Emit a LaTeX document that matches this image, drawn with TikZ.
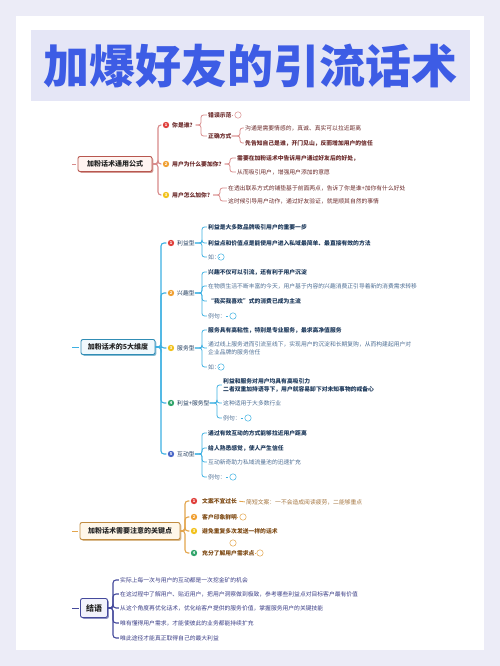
\documentclass[tikz,border=0pt]{standalone}
\usepackage{fontspec}
\setmainfont{Noto Sans CJK SC}
\usetikzlibrary{shadows}
\definecolor{pagebg}{HTML}{ECECF7}
\definecolor{bandbg}{HTML}{E5E6F6}
\definecolor{titleblue}{HTML}{3D5CE5}
\definecolor{redline}{HTML}{D88A8A}
\definecolor{redtext}{HTML}{6B2A2A}
\definecolor{redbox}{HTML}{B8574F}
\definecolor{redfill}{HTML}{FFF4F1}
\definecolor{blueline}{HTML}{3DB0E2}
\definecolor{bluetext}{HTML}{1E3A5C}
\definecolor{bluesoft}{HTML}{4D6E94}
\definecolor{bluefill}{HTML}{F1F9FD}
\definecolor{orline}{HTML}{E3A54C}
\definecolor{ortext}{HTML}{7E4A14}
\definecolor{orsoft}{HTML}{A4753F}
\definecolor{orfill}{HTML}{FFF7E9}
\definecolor{navline}{HTML}{454A9C}
\definecolor{navtext}{HTML}{3B3E86}
\definecolor{navfill}{HTML}{F2F2FB}
\definecolor{mkred}{HTML}{E0403C}
\definecolor{mkorange}{HTML}{F0A033}
\definecolor{mkyellow}{HTML}{F2C21C}
\definecolor{mkgreen}{HTML}{2FA46A}
\definecolor{mkblue}{HTML}{4A68C8}
\tikzset{
 txt/.style={anchor=west, inner sep=0pt, font=\fontsize{5.8}{8}\selectfont, align=left},
 txtb/.style={txt, font=\fontsize{5.8}{8}\selectfont\bfseries},
 mk/.style={circle, fill=#1, inner sep=0pt, minimum size=6.4pt, text=white, font=\fontsize{4}{4}\selectfont\bfseries},
 ico/.style={circle, draw=#1, line width=0.5pt, inner sep=0pt, minimum size=6.4pt},
 rootbox/.style={draw=#1, line width=0.9pt, rounded corners=2pt, inner sep=0pt, font=\fontsize{7}{8}\selectfont\bfseries, text=black!85, drop shadow={shadow xshift=1.3pt, shadow yshift=-1.3pt, fill=#1, opacity=0.6}},
 br/.style={draw=#1, line width=0.8pt, rounded corners=2.5pt, shorten >=1.2pt},
 mainbr/.style={draw=#1, line width=1.1pt, rounded corners=3pt, shorten >=1.2pt},
}
\begin{document}
\begin{tikzpicture}[x=1pt,y=-1pt]
\useasboundingbox (0,0) rectangle (500,666);
\fill[pagebg] (0,0) rectangle (500,666);
\fill[white] (16,16) rectangle (484,650);
\fill[bandbg] (31,30) rectangle (470,101);
\node[text=titleblue, font=\fontsize{46}{46}\selectfont\bfseries, inner sep=0pt] (title) at (250,66) {加爆好友的引流话术};

% ---------------- Section 1 ----------------
\coordinate (s1) at (72,164);
\node[rootbox=redbox, fill=redfill, minimum width=74pt, minimum height=15pt] (r1) at (115,164) {加粉话术通用公式};
\draw[br=redline] (s1) -- (r1.west);
\coordinate (k1) at (158,164);
\node[mk=mkred] (m11) at (166,125) {1};
\node[mk=mkorange] (m12) at (166,164) {2};
\node[mk=mkyellow] (m13) at (166,195) {3};
\node[txtb, text=redtext] (a11) at (172,125) {你是谁？};
\node[txtb, text=redtext] (a12) at (172,164) {用户为什么要加你？};
\node[txtb, text=redtext] (a13) at (172,195) {用户怎么加你？};
\foreach \m in {m11,m12,m13} \draw[mainbr=redline] (r1.east) -- (k1) |- (\m.west);

\coordinate (k11) at (201,125);
\node[txtb, text=redtext] (b11) at (208,115) {错误示范};
\node[ico=redline] (i11) at (238,115) {};
\node[txtb, text=redtext] (b12) at (208,136) {正确方式};
\draw[br=redline] (b11.east) -- (i11.west);
\foreach \c in {b11,b12} \draw[br=redline] (a11.east) -- (k11) |- (\c.west);

\coordinate (k12) at (240,136);
\node[txt, text=redtext] (c11) at (245,128) {沟通是需要情感的，真诚、真实可以拉近距离};
\node[txtb, text=redtext] (c12) at (245,143) {先告知自己是谁，开门见山，反而增加用户的信任};
\foreach \c in {c11,c12} \draw[br=redline] (b12.east) -- (k12) |- (\c.west);

\coordinate (k13) at (230,164);
\node[txtb, text=redtext] (c13) at (237,158) {需要在加粉话术中告诉用户通过好友后的好处，};
\node[txt, text=redtext] (c14) at (237,172) {从而吸引用户，增强用户添加的意愿};
\foreach \c in {c13,c14} \draw[br=redline] (a12.east) -- (k13) |- (\c.west);

\coordinate (k14) at (220,195);
\node[txt, text=redtext] (c15) at (228,188) {在透出联系方式的铺垫基于前面两点，告诉了你是谁+加你有什么好处};
\node[txt, text=redtext] (c16) at (228,201) {这时候引导用户动作，通过好友验证，就是顺其自然的事情};
\foreach \c in {c15,c16} \draw[br=redline] (a13.east) -- (k14) |- (\c.west);

% ---------------- Section 2 ----------------
\coordinate (s2) at (72,347);
\node[rootbox=blueline!80!black, fill=bluefill, minimum width=74pt, minimum height=15pt] (r2) at (118,347) {加粉话术的5大维度};
\draw[br=blueline] (s2) -- (r2.west);
\coordinate (k2) at (161,347);
\node[mk=mkred] (m21) at (171,243) {1};
\node[mk=mkorange] (m22) at (171,293) {2};
\node[mk=mkyellow] (m23) at (171,348) {3};
\node[mk=mkgreen] (m24) at (171,403) {4};
\node[mk=mkblue] (m25) at (171,454) {5};
\node[txt, text=bluetext] (a21) at (177,243) {利益型};
\node[txt, text=bluetext] (a22) at (177,293) {兴趣型};
\node[txt, text=bluetext] (a23) at (177,348) {服务型};
\node[txt, text=bluetext] (a24) at (177,403) {利益+服务型};
\node[txt, text=bluetext] (a25) at (177,454) {互动型};
\foreach \m in {m21,m22,m23,m24,m25} \draw[mainbr=blueline] (r2.east) -- (k2) |- (\m.west);

\coordinate (k21) at (202,243);
\node[txtb, text=bluetext] (d11) at (208,227) {利益是大多数品牌吸引用户的重要一步};
\node[txtb, text=bluetext] (d12) at (208,243) {利益点和价值点是能使用户进入私域最简单、最直接有效的方法};
\node[txt, text=bluesoft] (d13) at (208,257) {如：};
\node[ico=blueline] (j13) at (221,257) {};
\draw[br=blueline] (d13.east) -- (j13.west);
\foreach \c in {d11,d12,d13} \draw[br=blueline] (a21.east) -- (k21) |- (\c.west);

\coordinate (k22) at (202,293);
\node[txtb, text=bluetext] (d21) at (208,272) {兴趣不仅可以引流，还有利于用户沉淀};
\node[txt, text=bluesoft] (d22) at (208,286) {在物质生活不断丰富的今天，用户基于内容的兴趣消费正引导着新的消费需求转移};
\node[txtb, text=bluetext] (d23) at (208,301) {“我买我喜欢”式的消费已成为主流};
\node[txt, text=bluesoft] (d24) at (208,316) {例句：};
\node[ico=blueline] (j24) at (233,316) {};
\draw[br=blueline] (d24.east) -- (j24.west);
\foreach \c in {d21,d22,d23,d24} \draw[br=blueline] (a22.east) -- (k22) |- (\c.west);

\coordinate (k23) at (202,348);
\node[txtb, text=bluetext] (d31) at (208,330) {服务具有高粘性，特别是专业服务，最求高净值服务};
\node[txt, text=bluesoft] (d32) at (208,348) {通过线上服务进而引流至线下，实现用户的沉淀和长期复购，从而构建起用户对\\企业品牌的服务信任};
\node[txt, text=bluesoft] (d33) at (208,367) {如：};
\node[ico=blueline] (j33) at (221,367) {};
\draw[br=blueline] (d33.east) -- (j33.west);
\foreach \c in {d31,d32,d33} \draw[br=blueline] (a23.east) -- (k23) |- (\c.west);

\coordinate (k24) at (217,403);
\node[txtb, text=bluetext] (d41) at (223,385) {利益和服务对用户均具有高吸引力\\二者双重加持语导下，用户就容易卸下对未知事物的戒备心};
\node[txt, text=bluesoft] (d42) at (223,403) {这种适用于大多数行业};
\node[txt, text=bluesoft] (d43) at (223,418) {例句：};
\node[ico=blueline] (j43) at (248,418) {};
\draw[br=blueline] (d43.east) -- (j43.west);
\foreach \c in {d41,d42,d43} \draw[br=blueline] (a24.east) -- (k24) |- (\c.west);

\coordinate (k25) at (202,454);
\node[txtb, text=bluetext] (d51) at (208,433) {通过有效互动的方式能够拉近用户距离};
\node[txtb, text=bluetext] (d52) at (208,448) {给人熟悉感觉，使人产生信任};
\node[txt, text=bluesoft] (d53) at (208,462) {互动新奇助力私域流量池的迅速扩充};
\node[txt, text=bluesoft] (d54) at (208,477) {例句：};
\node[ico=blueline] (j54) at (233,477) {};
\draw[br=blueline] (d54.east) -- (j54.west);
\foreach \c in {d51,d52,d53,d54} \draw[br=blueline] (a25.east) -- (k25) |- (\c.west);

% ---------------- Section 3 ----------------
\coordinate (s3) at (72,531);
\node[rootbox=orline!85!black, fill=orfill, minimum width=100pt, minimum height=17pt] (r3) at (130,531) {加粉话术需要注意的关键点};
\draw[br=orline] (s3) -- (r3.west);
\coordinate (k3) at (185,531);
\node[mk=mkred] (m31) at (194,501) {1};
\node[mk=mkorange] (m32) at (194,517) {2};
\node[mk=mkyellow] (m33) at (194,531) {3};
\node[mk=mkgreen] (m34) at (194,553) {4};
\node[txtb, text=ortext] (a31) at (202,501) {文案不宜过长};
\node[txtb, text=ortext] (a32) at (202,517) {客户印象鲜明};
\node[txtb, text=ortext] (a33) at (202,531) {避免重复多次发送一样的话术};
\node[txtb, text=ortext] (a34) at (202,553) {充分了解用户需求点};
\foreach \m in {m31,m32,m33,m34} \draw[mainbr=orline] (r3.east) -- (k3) |- (\m.west);
\node[txt, text=orsoft] (e31) at (246,502) {简短文案：一不会造成阅读疲劳，二能够重点};
\draw[br=orline, shorten <=2pt] (a31.east) -- (e31.west);
\node[ico=orline] (j32) at (243,517) {};
\draw[br=orline] (a32.east) -- (j32.west);
\node[ico=orline] (j33b) at (233,543) {};
\node[ico=orline] (j34) at (260,553) {};
\draw[br=orline] (a34.east) -- (j34.west);

% ---------------- Section 4 ----------------
\coordinate (s4) at (72,608);
\node[rootbox=navline, fill=navfill, minimum width=27pt, minimum height=19pt, font=\fontsize{8}{9}\selectfont\bfseries] (r4) at (94,608) {结语};
\draw[br=navline] (s4) -- (r4.west);
\coordinate (k4) at (113,608);
\node[txt, text=navtext] (f1) at (120,580) {实际上每一次与用户的互动都是一次挖金矿的机会};
\node[txt, text=navtext] (f2) at (120,594) {在这过程中了解用户、贴近用户，把用户洞察做到极致，参考哪些利益点对目标客户最有价值};
\node[txt, text=navtext] (f3) at (120,608) {从这个角度再优化话术，优化给客户提供的服务价值，掌握服务用户的关键技能};
\node[txt, text=navtext] (f4) at (120,623) {唯有懂得用户需求，才能使彼此的业务都能持续扩充};
\node[txt, text=navtext] (f5) at (120,638) {唯此途径才能真正取得自己的最大利益};
\foreach \c in {f1,f2,f3,f4,f5} \draw[mainbr=navline] (r4.east) -- (k4) |- (\c.west);
\end{tikzpicture}
\end{document}
